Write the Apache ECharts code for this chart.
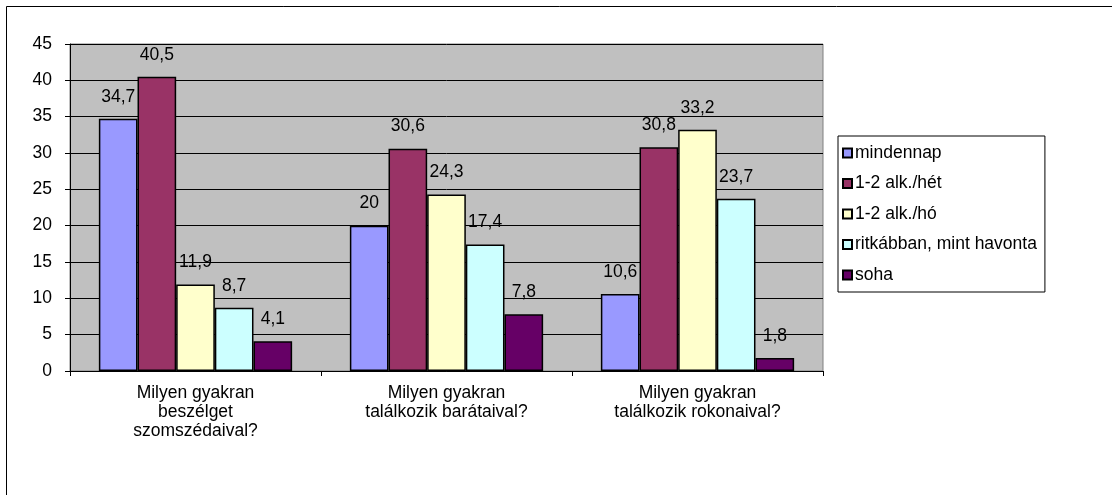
<!DOCTYPE html>
<html>
<head>
<meta charset="utf-8">
<title>Milyen gyakran</title>
<script src="https://cdn.jsdelivr.net/npm/echarts@6/dist/echarts.min.js"></script>
<style>
  html, body { margin: 0; padding: 0; background: #fff; }
  #chart { width: 1112px; height: 495px; }
</style>
</head>
<body>
<div id="chart"></div>
<script>
// kategóriák (x tengely)
const categories = [
  'Milyen gyakran\nbeszélget\nszomszédaival?',
  'Milyen gyakran\ntalálkozik barátaival?',
  'Milyen gyakran\ntalálkozik rokonaival?'
]

// sorozatok
const seriesNames = ['mindennap', '1-2 alk./hét', '1-2 alk./hó', 'ritkábban, mint havonta', 'soha']
const mindennap = [34.7, 20, 10.6]
const hetente = [40.5, 30.6, 30.8]
const havonta = [11.9, 24.3, 33.2]
const ritkabban = [8.7, 17.4, 23.7]
const soha = [4.1, 7.8, 1.8]

const colors = ['#9999FF', '#993366', '#FFFFCC', '#CCFFFF', '#660066']
const FONT = 'Liberation Sans'
const FS = 17.5

const chart = echarts.init(document.getElementById('chart'))

const seriesData = [mindennap, hetente, havonta, ritkabban, soha]

chart.setOption({
  animation: false,
  textStyle: { fontFamily: FONT },
  graphic: [{
    type: 'rect',
    shape: { x: 6.5, y: 6.5, width: 1200, height: 600 },
    style: { fill: 'none', stroke: '#000', lineWidth: 1 },
    silent: true
  }],
  grid: {
    left: 70,
    right: 289,
    top: 44,
    bottom: 124,
    show: true,
    backgroundColor: '#C0C0C0',
    borderColor: '#808080',
    borderWidth: 1
  },
  legend: {
    orient: 'vertical',
    left: 838,
    top: 136,
    itemWidth: 9,
    itemHeight: 9,
    itemGap: 12.5,
    padding: [8, 8, 8, 4],
    backgroundColor: '#fff',
    borderColor: '#000',
    borderWidth: 1,
    borderRadius: 0,
    icon: 'rect',
    textStyle: { fontFamily: FONT, fontSize: FS, color: '#000', padding: [0, 0, 0, -2] },
    data: seriesNames
  },
  xAxis: {
    type: 'category',
    data: categories,
    axisLine: { lineStyle: { color: '#000', width: 1 } },
    axisTick: { show: true, length: 5, lineStyle: { color: '#000' } },
    axisLabel: {
      color: '#000',
      fontSize: FS,
      fontFamily: FONT,
      lineHeight: 19,
      margin: 13,
      interval: 0
    }
  },
  yAxis: {
    type: 'value',
    min: 0,
    max: 45,
    interval: 5,
    axisLine: { show: true, lineStyle: { color: '#000', width: 1 } },
    axisTick: { show: true, length: 5, lineStyle: { color: '#000' } },
    axisLabel: { color: '#000', fontSize: FS, fontFamily: FONT, margin: 18 },
    splitLine: { lineStyle: { color: '#000', width: 1 } }
  },
  series: seriesData.map((d, i) => ({
    name: seriesNames[i],
    type: 'bar',
    data: d,
    barGap: '0%',
    barCategoryGap: '23%',
    itemStyle: { color: colors[i], borderColor: '#000', borderWidth: 1.5 },
    label: {
      show: true,
      position: 'top',
      distance: 13,
      color: '#000',
      fontSize: FS,
      fontFamily: FONT,
      formatter: p => String(p.value).replace('.', ',')
    }
  }))
})
</script>
</body>
</html>
